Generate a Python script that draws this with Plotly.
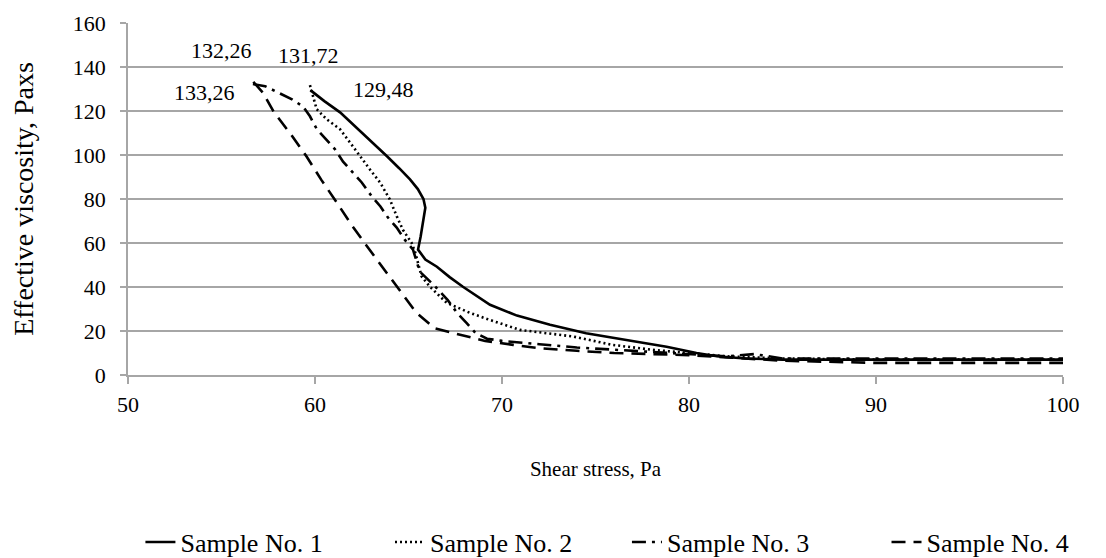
import plotly.graph_objects as go

# ---- data ----
s1_x = [59.75, 60.5, 61.34, 62.6, 63.85, 64.5, 65.08, 65.5, 65.8, 65.9, 65.78, 65.65, 65.51, 65.9, 66.52, 67.2, 67.91, 69.36, 70.8, 72.57, 74.5, 76.5, 78.8, 80.4, 81.5, 83.0, 85.0, 90.0, 95.0, 100.0]
s1_y = [129.48, 124.5, 119.4, 109.5, 99.4, 94, 88.9, 84.5, 80, 76, 69.3, 63, 57, 52.5, 49.2, 44.5, 40.1, 31.9, 27, 22.8, 19, 16, 12.8, 10, 8.5, 7.5, 7, 7, 7, 7]

s2_x = [59.73, 60.09, 60.63, 61.34, 61.87, 62.4, 62.94, 63.48, 64.0, 64.37, 64.7, 65.17, 65.35, 65.7, 66.15, 67.04, 68.3, 69.36, 70.96, 73.8, 75.9, 78.1, 79.9, 82.0, 85.0, 90.0, 95.0, 100.0]
s2_y = [131.72, 120.8, 116.2, 111.7, 105.7, 99.4, 93.4, 87.5, 79.8, 72.2, 66, 60, 56, 44.8, 40.1, 32.8, 28.2, 25, 20.5, 17.5, 13.7, 11.4, 10, 8.5, 7.5, 7, 7, 7]

s3_x = [56.68, 57.33, 58.0, 58.77, 59.36, 59.73, 60.1, 60.5, 61.07, 61.5, 62.0, 62.5, 63.05, 63.5, 63.9, 64.37, 64.8, 65.24, 65.6, 66.4, 67.1, 67.6, 68.1, 68.6, 69.2, 70.0, 72.0, 74.0, 76.0, 78.0, 80.0, 82.0, 83.5, 85.0, 90.0, 95.0, 100.0]
s3_y = [132.26, 131.3, 128.5, 125.3, 122, 117.6, 111.7, 108, 102.6, 97, 92, 87.5, 81, 76.6, 71.6, 67, 61.5, 57, 47, 40.5, 34, 28.2, 23.7, 19, 16.5, 15.5, 14, 12.5, 11.5, 10.5, 9.5, 8.5, 9.5, 7.5, 7.5, 7.5, 7.5]

s4_x = [56.7, 57.2, 57.8, 58.7, 59.55, 60.33, 61.15, 61.95, 62.8, 63.7, 64.6, 65.4, 66.4, 67.8, 69.1, 70.6, 72.1, 74.0, 76.0, 78.0, 80.0, 82.0, 85.0, 90.0, 95.0, 100.0]
s4_y = [133.26, 128.5, 119.5, 109.5, 99.3, 88.8, 78.6, 68.3, 58.3, 47.8, 37.8, 28.5, 21.2, 18.2, 15.5, 13.7, 12.1, 11, 10, 9.5, 9, 8, 6.5, 5.5, 5.5, 5.5]

names = ["Sample No. 1", "Sample No. 2", "Sample No. 3", "Sample No. 4"]
x_ticks = [50, 60, 70, 80, 90, 100]
y_ticks = [0, 20, 40, 60, 80, 100, 120, 140, 160]

series = [(s1_x, s1_y), (s2_x, s2_y), (s3_x, s3_y), (s4_x, s4_y)]
dashes = ["solid", "2px,3px", "14px,6px,3px,6px", "14px,8px"]
label_shift = [(73, 1), (-1, 30), (-31, 34), (-49, -11)]
legend_ids = ["legend", "legend2", "legend3", "legend4"]
legend_x = [0.1206, 0.3479, 0.5637, 0.8001]

FONT = "Liberation Serif, Times New Roman, serif"
GRID = "#a6a6a6"

fig = go.Figure()
for (xs, ys), nm, d, lg in zip(series, names, dashes, legend_ids):
    fig.add_trace(go.Scatter(x=xs, y=ys, name=nm, mode="lines", legend=lg,
                             line=dict(color="black", width=2.6, dash=d)))

for (xs, ys), (dx, dy) in zip(series, label_shift):
    i = max(range(len(ys)), key=lambda k: ys[k])
    fig.add_annotation(x=xs[i], y=ys[i], text=f"{ys[i]:.2f}".replace(".", ","),
                       showarrow=False, xshift=dx, yshift=dy,
                       font=dict(family=FONT, size=22, color="black"))

legends = {}
for lg, lx in zip(legend_ids, legend_x):
    legends[lg] = dict(orientation="h", xref="container", yref="container",
                       x=lx, xanchor="left", y=0.029, yanchor="middle",
                       bgcolor="rgba(0,0,0,0)",
                       font=dict(family=FONT, size=26, color="black"))

fig.update_layout(
    width=1098, height=550,
    margin=dict(l=120, r=43, t=15, b=183, autoexpand=False),
    paper_bgcolor="white", plot_bgcolor="white",
    font=dict(family=FONT, size=22, color="black"),
    showlegend=True,
    **legends,
)
fig.update_xaxes(range=[50, 100], tickvals=x_ticks, ticktext=[str(v) for v in x_ticks],
                 showgrid=False, zeroline=False, showline=True, linecolor=GRID, linewidth=1.5,
                 ticks="outside", ticklen=7, tickcolor=GRID, tickwidth=1.5,
                 tickfont=dict(family=FONT, size=22), ticklabelstandoff=2,
                 title=dict(text="Shear stress, Pa", font=dict(family=FONT, size=21), standoff=45))
fig.update_yaxes(range=[0, 160], tickvals=y_ticks, ticktext=[str(v) for v in y_ticks],
                 showgrid=True, gridcolor=GRID, gridwidth=1.5, zeroline=False,
                 showline=True, linecolor=GRID, linewidth=1.5,
                 ticks="outside", ticklen=6, tickcolor=GRID, tickwidth=1.5,
                 tickfont=dict(family=FONT, size=22), ticklabelstandoff=10,
                 title=dict(text="Effective viscosity, Paxs", font=dict(family=FONT, size=28), standoff=31))

fig.write_html("out.html")
